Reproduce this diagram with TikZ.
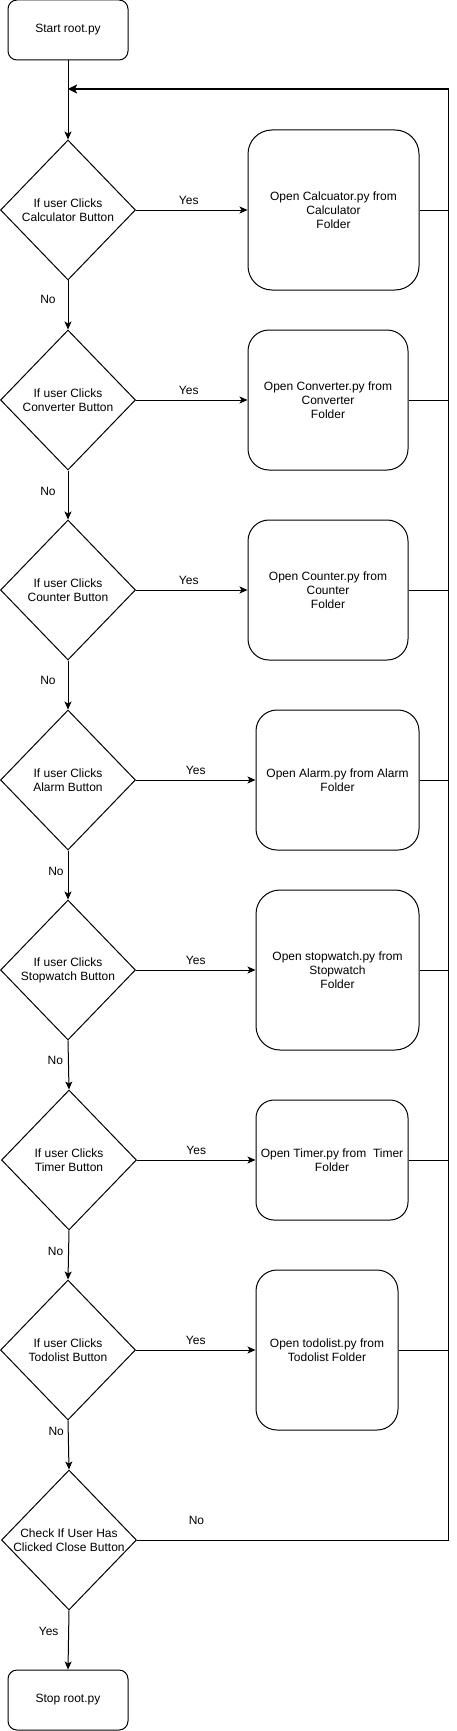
\documentclass[tikz,border=0pt]{standalone}
\usepackage{fontspec}
\setmainfont{Liberation Sans}
\usetikzlibrary{shapes.geometric,arrows.meta}
\begin{document}
\begin{tikzpicture}[x=1pt,y=-1pt,
  every node/.style={font=\fontsize{12}{14}\selectfont, text=black},
  box/.style={draw, line width=1pt, inner sep=0pt, align=center},
  dec/.style={draw, line width=1pt, diamond, inner sep=-14pt, minimum width=135pt, minimum height=140pt, align=center},
  flow/.style={line width=1pt, -{Stealth[length=8pt,width=7pt,inset=2pt]}},
  plain/.style={line width=1pt},
  lbl/.style={inner sep=0pt}
]
\useasboundingbox (0,0) rectangle (457,1731);

% start / stop
\node[box, minimum width=120pt, minimum height=60pt, rounded corners=9pt] (start) at (68,30) {Start root.py};
\node[box, minimum width=120pt, minimum height=60pt, rounded corners=9pt] (stop) at (68,1700) {Stop root.py};

% decisions
\node[dec] (d1) at (68,210) {If user Clicks\\Calculator Button};
\node[dec] (d2) at (68,400) {If user Clicks\\Converter Button};
\node[dec] (d3) at (68,590) {If user Clicks\\Counter Button};
\node[dec] (d4) at (68,780) {If user Clicks\\Alarm Button};
\node[dec] (d5) at (68,970) {If user Clicks\\Stopwatch Button};
\node[dec] (d6) at (69,1160) {If user Clicks\\Timer Button};
\node[dec] (d7) at (68,1350) {If user Clicks\\Todolist Button};
\node[dec] (d8) at (69,1540) {Check If User Has\\Clicked Close Button};

% actions
\node[box, minimum width=171pt, minimum height=160pt, rounded corners=24pt] (calc) at (333.5,210) {Open Calcuator.py from\\Calculator\\Folder};
\node[box, minimum width=160pt, minimum height=140pt, rounded corners=21pt] (conv) at (328,400) {Open Converter.py from\\Converter\\Folder};
\node[box, minimum width=160pt, minimum height=140pt, rounded corners=21pt] (count) at (328,590) {Open Counter.py from\\Counter\\Folder};
\node[box, minimum width=163pt, minimum height=140pt, rounded corners=21pt] (alarm) at (337.5,780) {Open Alarm.py from Alarm\\Folder};
\node[box, minimum width=163pt, minimum height=160pt, rounded corners=24pt] (stopw) at (337.5,970) {Open stopwatch.py from\\Stopwatch\\Folder};
\node[box, minimum width=152pt, minimum height=120pt, rounded corners=18pt] (timer) at (332,1160) {Open Timer.py from \ Timer\\Folder};
\node[box, minimum width=142pt, minimum height=160pt, rounded corners=21pt] (todo) at (327,1350) {Open todolist.py from\\Todolist Folder};

% loop coordinates
\coordinate (loopR) at (448.5,89);
\coordinate (join) at (68,89);

% main trunk
\draw[flow] (start) -- (d1);
\draw[flow] (d1) -- (d2) node[lbl, pos=0.38, xshift=-20pt] {No};
\draw[flow] (d2) -- (d3) node[lbl, pos=0.42, xshift=-20pt] {No};
\draw[flow] (d3) -- (d4) node[lbl, pos=0.4, xshift=-20pt] {No};
\draw[flow] (d4) -- (d5) node[lbl, pos=0.42, xshift=-12pt] {No};
\draw[flow] (d5.south) -- (d6.north) node[lbl, pos=0.4, xshift=-13pt] {No};
\draw[flow] (d6.south) -- (d7.north) node[lbl, pos=0.42, xshift=-13pt] {No};
\draw[flow] (d7.south) -- (d8.north) node[lbl, pos=0.22, xshift=-12pt] {No};
\draw[flow] (d8.south) -- (stop.north) node[lbl, pos=0.35, xshift=-20pt] {Yes};

% yes branches
\draw[flow] (d1.east) -- (calc.west) node[lbl, midway, above=5pt, xshift=-3pt] {Yes};
\draw[flow] (d2.east) -- (conv.west) node[lbl, midway, above=5pt, xshift=-3pt] {Yes};
\draw[flow] (d3.east) -- (count.west) node[lbl, midway, above=5pt, xshift=-3pt] {Yes};
\draw[flow] (d4.east) -- (alarm.west) node[lbl, midway, above=5pt] {Yes};
\draw[flow] (d5.east) -- (stopw.west) node[lbl, midway, above=5pt] {Yes};
\draw[flow] (d6.east) -- (timer.west) node[lbl, midway, above=5pt] {Yes};
\draw[flow] (d7.east) -- (todo.west) node[lbl, midway, above=5pt] {Yes};

% returns to loop
\foreach \n in {calc,conv,count,alarm,stopw,timer,todo}
  \draw[plain] (\n.east) -- (\n.east -| loopR);
\draw[plain] (d8.east) -- (d8.east -| loopR) -- (loopR)
  node[lbl, pos=0.0, xshift=-252pt, yshift=20pt] {No};
\draw[line width=1.8pt, -{Stealth[length=9pt,width=9pt,inset=2pt]}] (loopR) -- (join);
\end{tikzpicture}
\end{document}
